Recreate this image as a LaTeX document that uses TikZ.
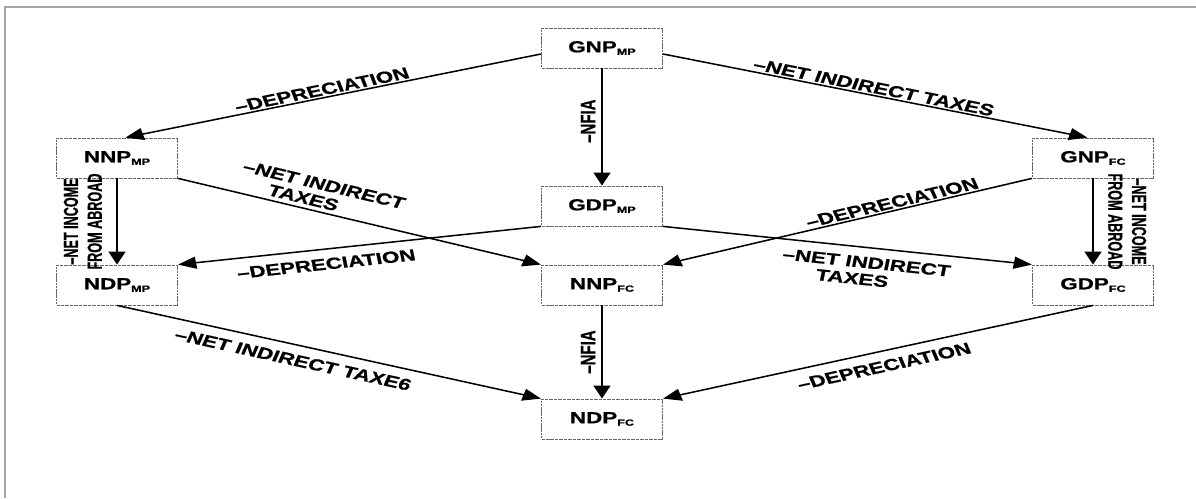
\documentclass[tikz,border=0pt]{standalone}
\usepackage{fontspec}
\setmainfont{Liberation Sans}[BoldFeatures={FakeBold=0.8}]
% narrower cut of the same face for the upright side labels
\newfontfamily\condensedface{Liberation Sans}[FakeStretch=0.87, BoldFeatures={FakeBold=0.8}]
\usetikzlibrary{arrows.meta}
% small lowered index used in the aggregate names (GNP_MP, NDP_FC, ...)
\newcommand{\lowsub}[1]{\raisebox{-2.5pt}{\fontsize{9}{9}\selectfont #1}}
\begin{document}
\begin{tikzpicture}[x=1pt,y=-1pt,
  frameline/.style={draw=black!35, line width=2.5pt},
  acct/.style={draw=black!60, line width=0.8pt, dash pattern=on 2.5pt off 0.7pt,
    minimum width=86.4pt, minimum height=40pt, inner sep=0pt,
    font=\bfseries\fontsize{16}{18}\selectfont},
  flow/.style={-{Triangle[length=13pt,width=12pt]}, line width=1.5pt},
  lbl/.style={font=\bfseries\fontsize{16}{17}\selectfont, inner sep=1.5pt, align=center},
  lblabove/.style={lbl, above=2pt},
  lblbelow/.style={lbl, below=7pt},
  vlbl/.style={font=\bfseries\fontsize{15}{17.5}\selectfont, inner sep=4pt, align=center, anchor=south},
  incomelbl/.style={vlbl, font=\condensedface\bfseries\fontsize{14.5}{17}\selectfont, inner sep=10pt}]
\useasboundingbox (0,0) rectangle (1196,498);
% page frame
\draw[frameline] (5,498) -- (5,7) -- (1196,7);
% the whole diagram is set with a horizontal stretch
\begin{scope}[x=0.714286pt, transform canvas={xscale=1.4}]
  \node[acct] (gnpmp) at (602,48)  {GNP\lowsub{MP}};
  \node[acct] (nnpmp) at (117,158) {NNP\lowsub{MP}};
  \node[acct] (gnpfc) at (1093,158) {GNP\lowsub{FC}};
  \node[acct] (gdpmp) at (602,206) {GDP\lowsub{MP}};
  \node[acct] (ndpmp) at (117,285) {NDP\lowsub{MP}};
  \node[acct] (nnpfc) at (602,285) {NNP\lowsub{FC}};
  \node[acct] (gdpfc) at (1093,285) {GDP\lowsub{FC}};
  \node[acct] (ndpfc) at (602,419) {NDP\lowsub{FC}};

  % upper fan from GNP at market prices
  \draw[flow] ([yshift=-6pt]gnpmp.west) -- node[lbl, sloped, above, pos=0.52] {\textendash DEPRECIATION} ([xshift=6pt]nnpmp.north);
  \draw[flow] ([yshift=-6pt]gnpmp.east) -- node[lbl, sloped, above, pos=0.49] {\textendash NET INDIRECT TAXES} ([xshift=-4pt]gnpfc.north);
  \draw[flow] (gnpmp.south) -- node[vlbl, rotate=90, pos=0.45] {\textendash NFIA} (gdpmp.north);

  % left column
  \draw[flow] (nnpmp.south) -- node[incomelbl, rotate=90, midway] {\textendash NET INCOME\\FROM ABROAD} (ndpmp.north);
  \draw[flow] (nnpmp.south east) -- node[lblabove, sloped, pos=0.37] {\textendash NET INDIRECT\\TAXES\hspace*{20pt}} (nnpfc.north west);

  % from GDP at market prices
  \draw[flow] (gdpmp.south west) -- node[lblbelow, sloped, pos=0.6] {\textendash DEPRECIATION} (ndpmp.north east);
  \draw[flow] (gdpmp.south east) -- node[lblbelow, sloped, pos=0.56] {\textendash NET INDIRECT\\TAXES\hspace*{16pt}} (gdpfc.north west);

  % right column
  \draw[flow] (gnpfc.south west) -- node[lbl, sloped, above, pos=0.37] {\textendash DEPRECIATION} (nnpfc.north east);
  \draw[flow] (gnpfc.south) -- node[incomelbl, rotate=-90, midway] {\textendash NET INCOME\\FROM ABROAD} (gdpfc.north);

  % lower fan into NDP at factor cost
  \draw[flow] (nnpfc.south) -- node[vlbl, rotate=90, midway] {\textendash NFIA} (ndpfc.north);
  \draw[flow] (ndpmp.south) -- node[lblbelow, sloped, pos=0.43] {\textendash NET INDIRECT TAXE6} (ndpfc.north west);
  \draw[flow] (gdpfc.south) -- node[lblbelow, sloped, pos=0.5] {\textendash DEPRECIATION} (ndpfc.north east);
\end{scope}
\end{tikzpicture}
\end{document}
